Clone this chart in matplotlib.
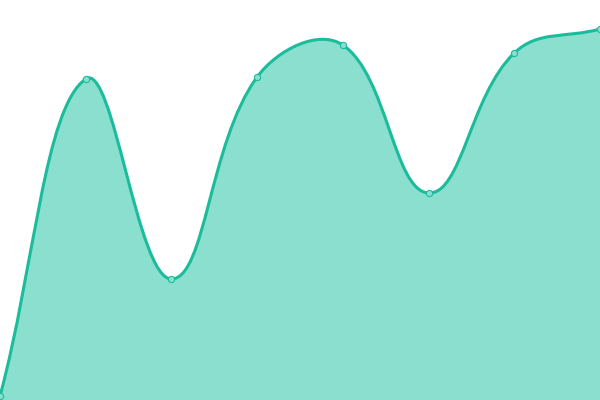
import numpy as np
import matplotlib
matplotlib.use("Agg")
import matplotlib.pyplot as plt
from matplotlib.path import Path
from matplotlib.patches import PathPatch

# data (y-axis runs 0..400)
labels = ["A", "B", "C", "D", "E", "F", "G", "H"]
values = [4, 321, 121, 323, 355, 207, 347, 371]

line_color = "#1abc9c"
fill_color = "#8adfcf"
tension = 0.4

fig = plt.figure(figsize=(6, 4), dpi=100)
ax = fig.add_axes([0, 0, 1, 1])
ax.set_xlim(0, len(values) - 1)
ax.set_ylim(0, 400)
ax.axis("off")

# spline control points, computed in pixel space like Chart.js does
x = np.arange(len(values))
pts = ax.transData.transform(np.column_stack([x, values]))
W, H = fig.bbox.width, fig.bbox.height

ctrl = []
n = len(pts)
for i in range(n):
    cur = pts[i]
    prev = pts[i - 1] if i > 0 else cur
    nxt = pts[i + 1] if i < n - 1 else cur
    d01 = np.hypot(*(cur - prev))
    d12 = np.hypot(*(nxt - cur))
    tot = d01 + d12
    s01 = d01 / tot if tot else 0
    s12 = d12 / tot if tot else 0
    fa = tension * s01
    fb = tension * s12
    cp_prev = cur - fa * (nxt - prev)
    cp_next = cur + fb * (nxt - prev)
    cp_prev = np.clip(cp_prev, [0, 0], [W, H])
    cp_next = np.clip(cp_next, [0, 0], [W, H])
    ctrl.append((cp_prev, cp_next))

verts = [pts[0]]
codes = [Path.MOVETO]
for i in range(n - 1):
    verts += [ctrl[i][1], ctrl[i + 1][0], pts[i + 1]]
    codes += [Path.CURVE4] * 3
verts = ax.transData.inverted().transform(np.array(verts))

line_path = Path(verts, codes)
fill_verts = np.vstack([verts, [[x[-1], 0], [x[0], 0], verts[0]]])
fill_codes = codes + [Path.LINETO, Path.LINETO, Path.CLOSEPOLY]
fill_path = Path(fill_verts, fill_codes)

ax.add_patch(PathPatch(fill_path, facecolor=fill_color, edgecolor="none", zorder=1))
ax.add_patch(PathPatch(line_path, facecolor="none", edgecolor=line_color, lw=2.2, zorder=2))
ax.plot(x, values, "o", ms=4.5, mfc=fill_color, mec=line_color, mew=0.8,
        zorder=3, clip_on=False)

fig.savefig("out.png", dpi=100)
